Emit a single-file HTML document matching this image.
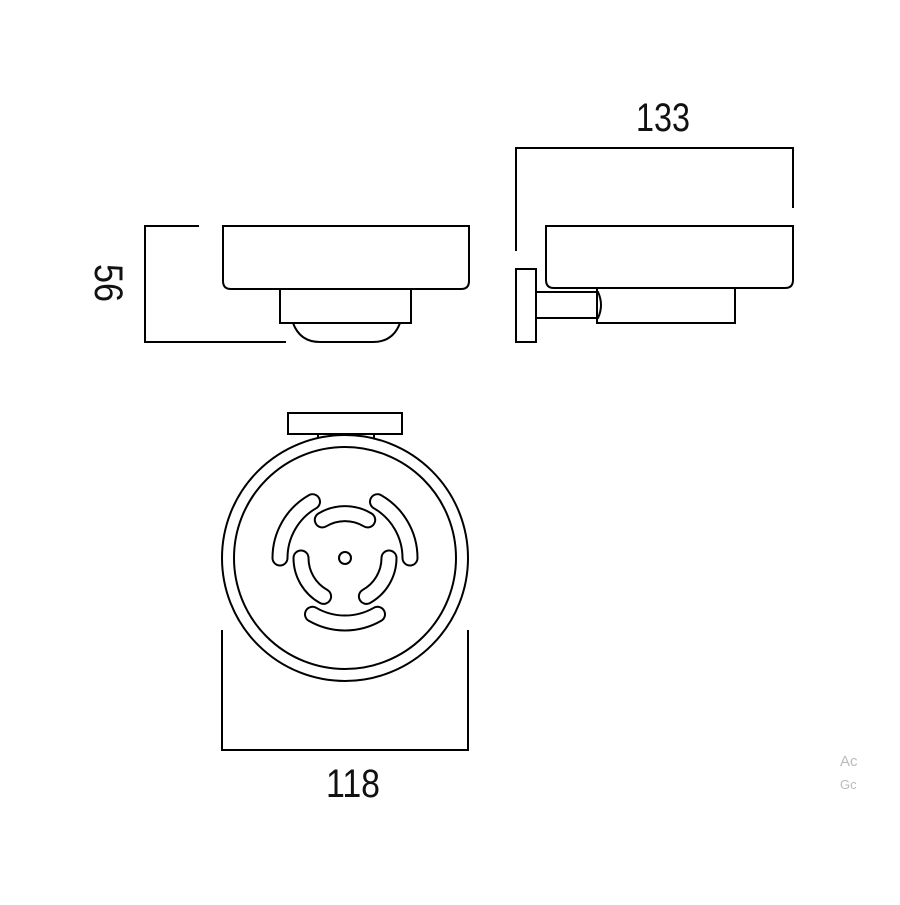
<!DOCTYPE html>
<html><head><style>html,body{margin:0;padding:0;background:#fff}</style></head>
<body>
<svg width="900" height="900" viewBox="0 0 900 900" xmlns="http://www.w3.org/2000/svg">
<g fill="none" stroke="#000" stroke-width="2">
<!-- left elevation -->
<polyline points="199,226 145,226 145,342 286,342"/>
<path d="M223,226 H469 V281 Q469,289 461,289 H231 Q223,289 223,281 Z"/>
<rect x="280" y="289" width="131" height="34"/>
<path d="M293,323 Q300,342 320,342 H373 Q393,342 400,323"/>
<!-- right elevation -->
<polyline points="516,251 516,148 793,148 793,208"/>
<path d="M546,226 H793 V280 Q793,288 785,288 H554 Q546,288 546,280 Z"/>
<rect x="516" y="269" width="20" height="73"/>
<path d="M536,292 H598 Q604,305 598,318 H536"/>
<path d="M597,288 V323 H735 V288"/>
<!-- plan view -->
<rect x="288" y="413" width="114" height="21"/>
<line x1="318" y1="434" x2="318" y2="438"/>
<line x1="374" y1="434" x2="374" y2="438"/>
<circle cx="345" cy="558" r="123"/>
<circle cx="345" cy="558" r="111"/>
<circle cx="345" cy="558" r="6"/>
<polyline points="222,630 222,750 468,750 468,630"/>
</g>
<g fill="none" stroke-linecap="round">
<g stroke="#000" stroke-width="17">
<path d="M322.3,519.9 A44,44 0 0 1 367.7,519.9"/>
<path d="M389,558 A44,44 0 0 1 366.4,596.4"/>
<path d="M323.6,596.4 A44,44 0 0 1 301,558"/>
<path d="M312.5,614.3 A65,65 0 0 0 377.5,614.3"/>
<path d="M312.5,501.7 A65,65 0 0 0 280,558"/>
<path d="M377.5,501.7 A65,65 0 0 1 410,558"/>
</g>
<g stroke="#fff" stroke-width="13">
<path d="M322.3,519.9 A44,44 0 0 1 367.7,519.9"/>
<path d="M389,558 A44,44 0 0 1 366.4,596.4"/>
<path d="M323.6,596.4 A44,44 0 0 1 301,558"/>
<path d="M312.5,614.3 A65,65 0 0 0 377.5,614.3"/>
<path d="M312.5,501.7 A65,65 0 0 0 280,558"/>
<path d="M377.5,501.7 A65,65 0 0 1 410,558"/>
</g>
</g>
<g font-family="Liberation Sans, sans-serif" fill="#111">
<text x="636" y="131" font-size="40" textLength="54" lengthAdjust="spacingAndGlyphs">133</text>
<text x="326" y="797" font-size="40" textLength="54" lengthAdjust="spacingAndGlyphs">118</text>
<text transform="translate(95,283) rotate(90)" font-size="40" text-anchor="middle" textLength="38" lengthAdjust="spacingAndGlyphs">56</text>
<text x="840" y="766" font-size="15" fill="#bbb">Ac</text>
<text x="840" y="789" font-size="13" fill="#bbb">Gc</text>
</g>
</svg>
</body></html>
